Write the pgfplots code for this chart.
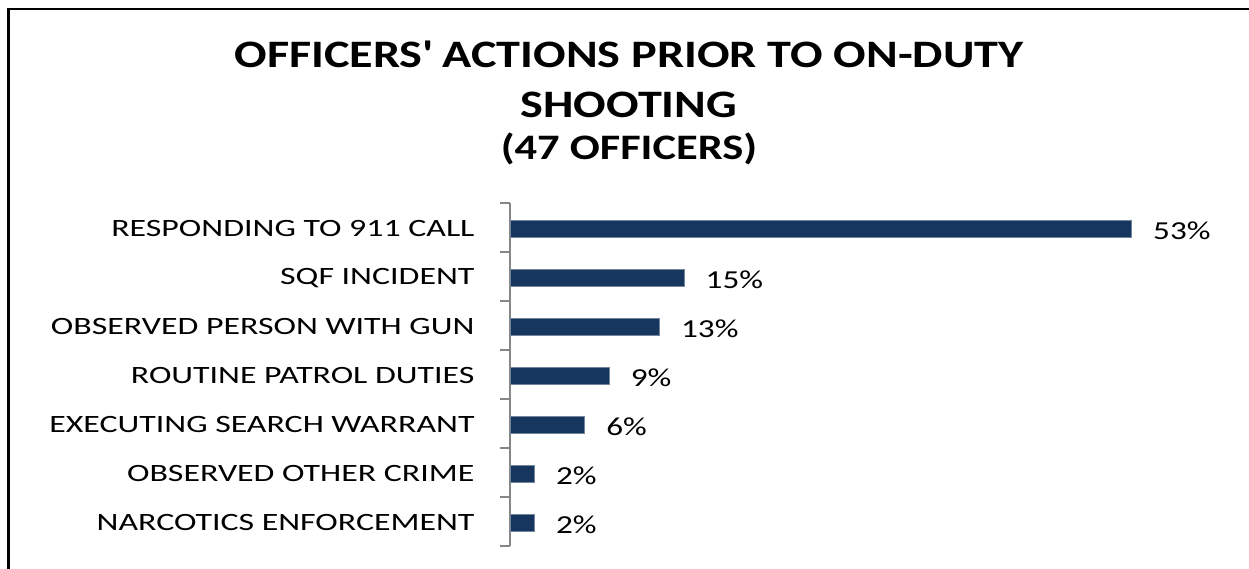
\documentclass[border=0pt]{standalone}
\usepackage{pgfplots}
\pgfplotsset{compat=1.18}
\usepackage{fontspec}
\setmainfont{Carlito}
\newfontfamily\labelfont{Carlito}[FakeStretch=1.36]
\newfontfamily\valuefont{Carlito}[FakeStretch=1.28]
\newfontfamily\titlefont{Carlito}[FakeStretch=1.24]
\definecolor{barblue}{RGB}{23,54,93}
\definecolor{axisgray}{RGB}{134,134,134}
\begin{document}
\begin{tikzpicture}[x=1bp,y=1bp]
\useasboundingbox (0,0) rectangle (1249,569);
\draw[line width=2.2bp,black] (8.5,0) -- (8.5,560) -- (1249,560);
\node[anchor=base,font=\titlefont\bfseries\fontsize{39}{39}\selectfont] at (629,501) {OFFICERS\textquotesingle\ ACTIONS PRIOR TO ON-DUTY};
\node[anchor=base,font=\titlefont\bfseries\fontsize{39}{39}\selectfont] at (629,451) {SHOOTING};
\node[anchor=base,font=\titlefont\bfseries\fontsize{36}{36}\selectfont] at (629,409) {(47 OFFICERS)};
\begin{axis}[
  at={(510bp,23bp)}, anchor=south west,
  scale only axis,
  width=701bp, height=343bp,
  xbar, bar width=17bp,
  xmin=0, xmax=60,
  ymin=-0.5, ymax=6.5,
  axis x line=none,
  axis y line*=left,
  y axis line style={draw=axisgray, line width=1.6bp},
  ytick={0,1,2,3,4,5,6},
  yticklabels={NARCOTICS ENFORCEMENT, OBSERVED OTHER CRIME, EXECUTING SEARCH WARRANT, ROUTINE PATROL DUTIES, OBSERVED PERSON WITH GUN, SQF INCIDENT, RESPONDING TO 911 CALL},
  major tick length=0pt,
  minor ytick={-0.5,0.5,1.5,2.5,3.5,4.5,5.5,6.5},
  minor tick length=10bp,
  tick align=outside,
  minor tick style={draw=axisgray, line width=1.6bp},
  yticklabel style={font=\labelfont\fontsize{25}{25}\selectfont, anchor=east, xshift=-32bp, yshift=-1.5bp},
  /pgf/number format/assume math mode=true,
  nodes near coords={\pgfmathprintnumber[fixed,precision=0,assume math mode=true]{\pgfplotspointmeta}\%},
  nodes near coords align={horizontal},
  every node near coord/.append style={font=\valuefont\fontsize{26}{26}\selectfont, black, xshift=18bp, yshift=-1.5bp},
  clip=false,
]
\addplot[fill=barblue, draw=barblue!60!white, line width=0.6bp, bar shift=-1.5bp] coordinates {
  (2.1,0)
  (2.1,1)
  (6.4,2)
  (8.5,3)
  (12.8,4)
  (14.9,5)
  (53.2,6)
};
\end{axis}
\end{tikzpicture}
\end{document}
